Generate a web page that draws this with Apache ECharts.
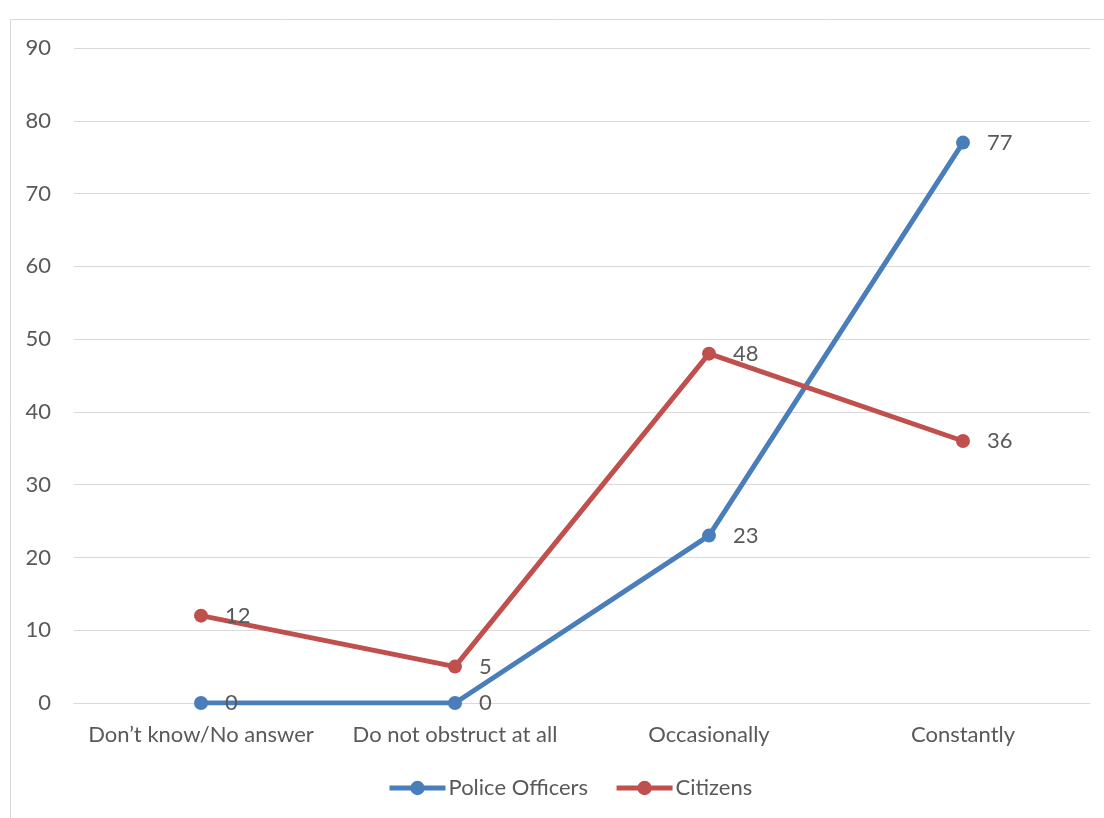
<!DOCTYPE html>
<html>
<head>
<meta charset="utf-8">
<script src="https://cdn.jsdelivr.net/npm/echarts@6/dist/echarts.min.js"></script>
<style>
  html, body { margin: 0; padding: 0; background: #fff; }
  #chart { width: 1104px; height: 818px; }
</style>
</head>
<body>
<div id="chart"></div>
<script>
// Survey responses by group (%)
const categories = ['Don\u2019t know/No answer', 'Do not obstruct at all', 'Occasionally', 'Constantly'];
const policeOfficers = [0, 0, 23, 77];
const citizens = [12, 5, 48, 36];
const yTicks = { min: 0, max: 90, interval: 10 };

const FONT = 'Lato, "Open Sans", sans-serif';
const TEXT = '#595959';
const BLUE = '#4a7ebb';
const RED = '#c0504d';
const FS = 22;

const chart = echarts.init(document.getElementById('chart'), null, { renderer: 'canvas' });

function lineSeries(name, data, color) {
  return {
    name: name,
    type: 'line',
    data: data,
    symbol: 'circle',
    symbolSize: 14,
    lineStyle: { color: color, width: 5 },
    itemStyle: { color: color },
    label: {
      show: true,
      position: 'right',
      distance: 17,
      color: TEXT,
      fontFamily: FONT,
      fontSize: FS
    },
    emphasis: { disabled: true },
    z: name === 'Citizens' ? 3 : 2
  };
}

chart.setOption({
  animation: false,
  backgroundColor: '#fff',
  graphic: [{
    type: 'rect',
    shape: { x: 10.5, y: 19.5, width: 1200, height: 900 },
    style: { fill: 'none', stroke: '#d9d9d9', lineWidth: 1 },
    silent: true
  }],
  grid: { left: 74, right: 14, top: 48, bottom: 115, containLabel: false },
  legend: {
    top: 772,
    left: 382,
    itemWidth: 56,
    itemHeight: 18,
    itemGap: 26,
    lineStyle: { width: 5 },
    textStyle: { color: TEXT, fontFamily: FONT, fontSize: FS, padding: [0, 0, 0, -2] },
    data: ['Police Officers', 'Citizens']
  },
  xAxis: {
    type: 'category',
    data: categories,
    boundaryGap: true,
    axisLine: { show: true, lineStyle: { color: '#d9d9d9', width: 1 } },
    axisTick: { show: false },
    axisLabel: { color: TEXT, fontFamily: FONT, fontSize: FS, margin: 21, interval: 0 }
  },
  yAxis: {
    type: 'value',
    min: yTicks.min,
    max: yTicks.max,
    interval: yTicks.interval,
    axisLine: { show: false },
    axisTick: { show: false },
    splitLine: { lineStyle: { color: '#d9d9d9', width: 1 } },
    axisLabel: { color: TEXT, fontFamily: FONT, fontSize: FS, margin: 23 }
  },
  series: [
    lineSeries('Police Officers', policeOfficers, BLUE),
    lineSeries('Citizens', citizens, RED)
  ]
});
</script>
</body>
</html>
